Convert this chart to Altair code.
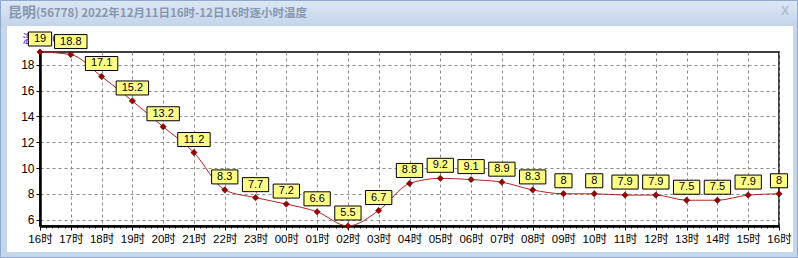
import altair as alt
import pandas as pd

# ---- data ----
hours = ["16时", "17时", "18时", "19时", "20时", "21时", "22时", "23时", "00时",
         "01时", "02时", "03时", "04时", "05时", "06时", "07时", "08时", "09时",
         "10时", "11时", "12时", "13时", "14时", "15时", "16时"]
temps = [19, 18.8, 17.1, 15.2, 13.2, 11.2, 8.3, 7.7, 7.2, 6.6, 5.5, 6.7, 8.8,
         9.2, 9.1, 8.9, 8.3, 8, 8, 7.9, 7.9, 7.5, 7.5, 7.9, 8]
y_ticks = [6, 8, 10, 12, 14, 16, 18]
y_domain = [5.5, 19]
title_city = "昆明"
title_rest = "(56778)  2022年12月11日16时-12日16时逐小时温度"
y_title = "温度(℃)"

df = pd.DataFrame({"i": list(range(len(hours))), "t": temps})
one = pd.DataFrame({"k": [0]})

W, H = 739, 174
label_js = "[" + ",".join("'%s'" % h for h in hours) + "]"
n = len(hours) - 1

x_scale = alt.Scale(domain=[0, n], nice=False, zero=False, padding=0)
y_scale = alt.Scale(domain=y_domain, nice=False, zero=False, padding=0)

GRID = "#8a8a8a"
y_axis = alt.Axis(values=y_ticks, title=y_title, titleAngle=0, titleX=-18, titleY=-13,
                  titleAlign="left", titleBaseline="middle", titleColor="#1a1add",
                  titleFont="Noto Sans CJK SC", titleFontSize=11, titleFontWeight="normal",
                  labelFont="Liberation Sans", labelFontSize=12, labelColor="black",
                  labelPadding=2, tickSize=4, tickColor="black", domainColor="black",
                  domainWidth=2.5, grid=True, gridDash=[3, 3], gridColor=GRID, gridWidth=1)
Y = alt.Y("t:Q", scale=y_scale, axis=y_axis)

x_axis_main = alt.Axis(orient="bottom", values=list(range(len(hours))),
                       labelExpr=label_js + "[datum.value]", title=None,
                       labelFont="Liberation Sans, Noto Sans CJK SC", labelFontSize=11.5,
                       labelColor="black", labelPadding=3, labelFlush=False,
                       labelOverlap=False, tickSize=4, tickColor="black",
                       domainColor="black", domainWidth=2.5, grid=True,
                       gridDash=[3, 3], gridColor=GRID, gridWidth=1)
minor_vals = [k / 5 for k in range(n * 5 + 1) if k % 5]
x_axis_minor = alt.Axis(orient="bottom", values=minor_vals, labels=False, grid=False,
                        domain=False, tickSize=2, tickColor="black", title=None)

base = alt.Chart(df)

line = base.mark_line(color="#b22222", strokeWidth=1, interpolate="monotone").encode(
    x=alt.X("i:Q", scale=x_scale, axis=x_axis_main), y=Y)

pts = base.mark_point(shape="diamond", filled=True, size=40, color="#990000",
                      stroke="#5a0000", strokeWidth=0.5, opacity=1).encode(
    x=alt.X("i:Q", scale=x_scale, axis=x_axis_minor), y=Y)

lab = base.transform_calculate(
    lab="toString(datum.t)"
).transform_calculate(
    bw="length(datum.lab)*6.12 - (indexof(datum.lab, '.') >= 0 ? 3.06 : 0) + 11"
)

boxes = lab.mark_bar(fill="#ffff88", stroke="black", strokeWidth=1,
                     yOffset=-20, y2Offset=-6).encode(
    x=alt.X("i:Q", scale=x_scale, axis=None),
    y=Y, y2=alt.Y2("t:Q"),
    size=alt.Size("bw:Q", scale=None, legend=None))

texts = lab.mark_text(font="Liberation Sans", fontSize=11, color="black", dy=-13,
                      baseline="middle", align="center").encode(
    x=alt.X("i:Q", scale=x_scale, axis=None), y=Y, text="lab:N")

# ---- window chrome (decoration) ----
grad = alt.Gradient(gradient="linear",
                    stops=[alt.GradientStop(color="#dde8f5", offset=0),
                           alt.GradientStop(color="#c3d4ea", offset=1)],
                    x1=0, x2=0, y1=0, y2=1)
ch = alt.Chart(one)
titlebar = ch.mark_rect(fill=grad).encode(
    x=alt.value(-40), x2=alt.value(758), y=alt.value(-52), y2=alt.value(-26))
FRAME = "#c6d6eb"
left_band = ch.mark_rect(fill=FRAME).encode(
    x=alt.value(-40), x2=alt.value(-33), y=alt.value(-26), y2=alt.value(206))
right_band = ch.mark_rect(fill=FRAME).encode(
    x=alt.value(753), x2=alt.value(758), y=alt.value(-26), y2=alt.value(206))
bottom_band = ch.mark_rect(fill=FRAME).encode(
    x=alt.value(-40), x2=alt.value(758), y=alt.value(200), y2=alt.value(206))
outer = ch.mark_rect(fillOpacity=0, stroke="#8fa9cc", strokeWidth=1).encode(
    x=alt.value(-39.5), x2=alt.value(757.5), y=alt.value(-51.5), y2=alt.value(205.5))
title1 = ch.mark_text(align="left", baseline="middle", font="Noto Sans CJK SC",
                      fontWeight="bold", fontSize=14, color="#8797ae").encode(
    x=alt.value(-32), y=alt.value(-39), text=alt.value(title_city))
title2 = ch.mark_text(align="left", baseline="middle", font="Noto Sans CJK SC",
                      fontWeight="bold", fontSize=11.5, color="#8797ae").encode(
    x=alt.value(-4), y=alt.value(-38.5), text=alt.value(title_rest))
closebtn = ch.mark_text(align="center", baseline="middle", font="Liberation Sans",
                        fontWeight="bold", fontSize=12, color="#aebbd0").encode(
    x=alt.value(745), y=alt.value(-41), text=alt.value("X"))

chart = alt.layer(
    line, pts, boxes, texts,
    titlebar, left_band, right_band, bottom_band, outer, title1, title2, closebtn
).resolve_axis(x="independent").properties(
    width=W, height=H,
    autosize=alt.AutoSizeParams(type="none"),
    padding={"left": 40, "top": 52, "right": 19, "bottom": 32},
    background="white",
).configure_view(stroke="black", strokeWidth=1.5, fill="white")

chart.save("out.html", embed_options={"renderer": "svg", "actions": False})
